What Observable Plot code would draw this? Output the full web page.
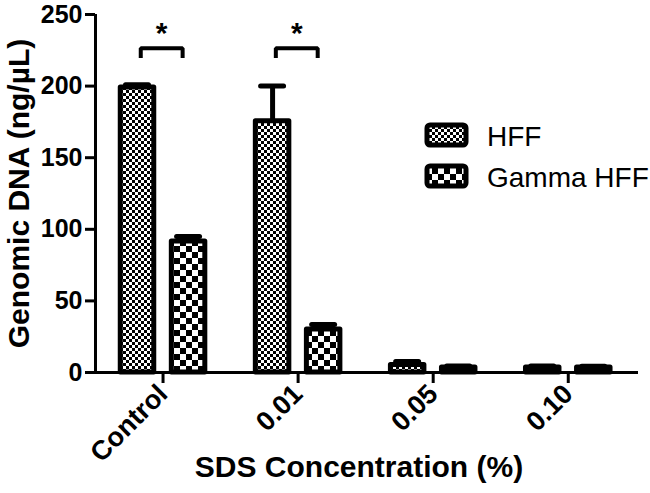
<!DOCTYPE html>
<html>
<head>
<meta charset="utf-8">
<script src="https://cdn.jsdelivr.net/npm/d3@7"></script>
<script src="https://cdn.jsdelivr.net/npm/@observablehq/plot@0.6"></script>
<style>
  html, body { margin: 0; padding: 0; background: #fff; }
  svg { font-family: "Liberation Sans", Arial, Helvetica, sans-serif; }
</style>
</head>
<body>
<div id="chart"></div>
<script>
// ---- data ----
const categories = ["Control", "0.01", "0.05", "0.10"];
const seriesNames = ["HFF", "Gamma HFF"];
const hffMean = [199, 175.5, 5.3, 3.5];
const hffErr = [2, 24.5, 2.3, 1];
const gammaMean = [91.5, 30, 3.5, 3.5];
const gammaErr = [3.5, 3.6, 1, 0.8];
const yTicks = [0, 50, 100, 150, 200, 250];
const sigGroups = [0, 1];          // groups marked with "*"
const sigBracketValue = 226.5;      // bracket height (ng/µL)
const sigLegValue = 219.6;          // bracket legs end
const sigStarValue = 237;           // asterisk position

// ---- layout helpers ----
const off = 0.189;   // bar offset from group centre
const hw = 0.124;    // half bar width
const capHw = 0.085; // half cap width

const idx = categories.map((_, i) => i);
const hff = idx.map(i => ({i, c: i - off, v: hffMean[i], e: hffErr[i]}));
const gam = idx.map(i => ({i, c: i + off, v: gammaMean[i], e: gammaErr[i]}));
const allBars = hff.concat(gam);

const brackets = [];
const stars = [];
sigGroups.forEach(g => {
  const x1 = g - 0.165, x2 = g + 0.145;
  brackets.push({g, x: x1, y: sigLegValue}, {g, x: x1, y: sigBracketValue},
                {g, x: x2, y: sigBracketValue}, {g, x: x2, y: sigLegValue});
  stars.push({x: (x1 + x2) / 2, y: sigStarValue});
});

const font = '"Liberation Sans", Arial, Helvetica, sans-serif';

const svg = Plot.plot({
  width: 650,
  height: 493,
  marginLeft: 95,
  marginRight: 12,
  marginTop: 14,
  marginBottom: 121,
  style: {fontFamily: font, background: "#fff", color: "#000"},
  x: {type: "linear", domain: [-0.5, 3.52], axis: null},
  y: {domain: [0, 250], axis: null},
  marks: [
    Plot.rect(hff, {x1: d => d.c - hw, x2: d => d.c + hw, y1: 0, y2: "v",
      fill: "url(#patHFF)", stroke: "#000", strokeWidth: 5, strokeLinejoin: "round"}),
    Plot.rect(gam, {x1: d => d.c - hw, x2: d => d.c + hw, y1: 0, y2: "v",
      fill: "url(#patGamma)", stroke: "#000", strokeWidth: 5, strokeLinejoin: "round"}),
    Plot.ruleX(allBars, {x: "c", y1: "v", y2: d => d.v + d.e, stroke: "#000", strokeWidth: 5}),
    Plot.ruleY(allBars, {x1: d => d.c - capHw, x2: d => d.c + capHw, y: d => d.v + d.e,
      stroke: "#000", strokeWidth: 5, strokeLinecap: "round"}),
    Plot.line(brackets, {x: "x", y: "y", z: "g", stroke: "#000", strokeWidth: 4,
      strokeLinejoin: "miter", strokeLinecap: "butt"}),
    Plot.text(stars, {x: "x", y: "y", text: () => "*", fontSize: 30, fontWeight: "bold"}),
    Plot.ruleX([-0.5], {y1: 0, y2: 250, stroke: "#000", strokeWidth: 3}),
    Plot.ruleY([0], {stroke: "#000", strokeWidth: 3}),
    Plot.axisY({ticks: yTicks, tickSize: 10, tickPadding: 3, fontSize: 25, fontWeight: "bold",
      stroke: "#000", strokeWidth: 3, label: null}),
    Plot.axisX({ticks: idx, tickFormat: i => categories[i], tickSize: 11, tickPadding: 6,
      tickRotate: -45, fontSize: 27, fontWeight: "bold", stroke: "#000", strokeWidth: 3, label: null}),
    Plot.text(["Genomic DNA (ng/µL)"], {frameAnchor: "left", textAnchor: "middle", rotate: -90, dx: -76,
      fontSize: 30, fontWeight: "bold"}),
    Plot.text(["SDS Concentration (%)"], {frameAnchor: "bottom", dy: 104, dx: -8,
      fontSize: 30, fontWeight: "bold"})
  ]
});

// patterns
const s = d3.select(svg);
const defs = s.insert("defs", ":first-child");
function checker(id, cell) {
  const p = defs.append("pattern").attr("id", id).attr("patternUnits", "userSpaceOnUse")
    .attr("width", cell * 2).attr("height", cell * 2);
  p.append("rect").attr("width", cell * 2).attr("height", cell * 2).attr("fill", "#fff");
  p.append("rect").attr("width", cell).attr("height", cell).attr("fill", "#000");
  p.append("rect").attr("x", cell).attr("y", cell).attr("width", cell).attr("height", cell).attr("fill", "#000");
}
checker("patHFF", 3);
checker("patGamma", 6);

// legend
const leg = s.append("g").attr("font-family", font).attr("text-anchor", "start");
seriesNames.forEach((name, k) => {
  const y0 = 125 + k * 41;
  leg.append("rect").attr("x", 427).attr("y", y0).attr("width", 39).attr("height", 20)
    .attr("rx", 3).attr("fill", k === 0 ? "url(#patHFF)" : "url(#patGamma)")
    .attr("stroke", "#000").attr("stroke-width", 5);
  leg.append("text").attr("x", 487).attr("y", y0 + 21).attr("font-size", 28)
    .attr("fill", "#000").attr("text-anchor", "start").text(name);
});

document.getElementById("chart").appendChild(svg);
</script>
</body>
</html>
